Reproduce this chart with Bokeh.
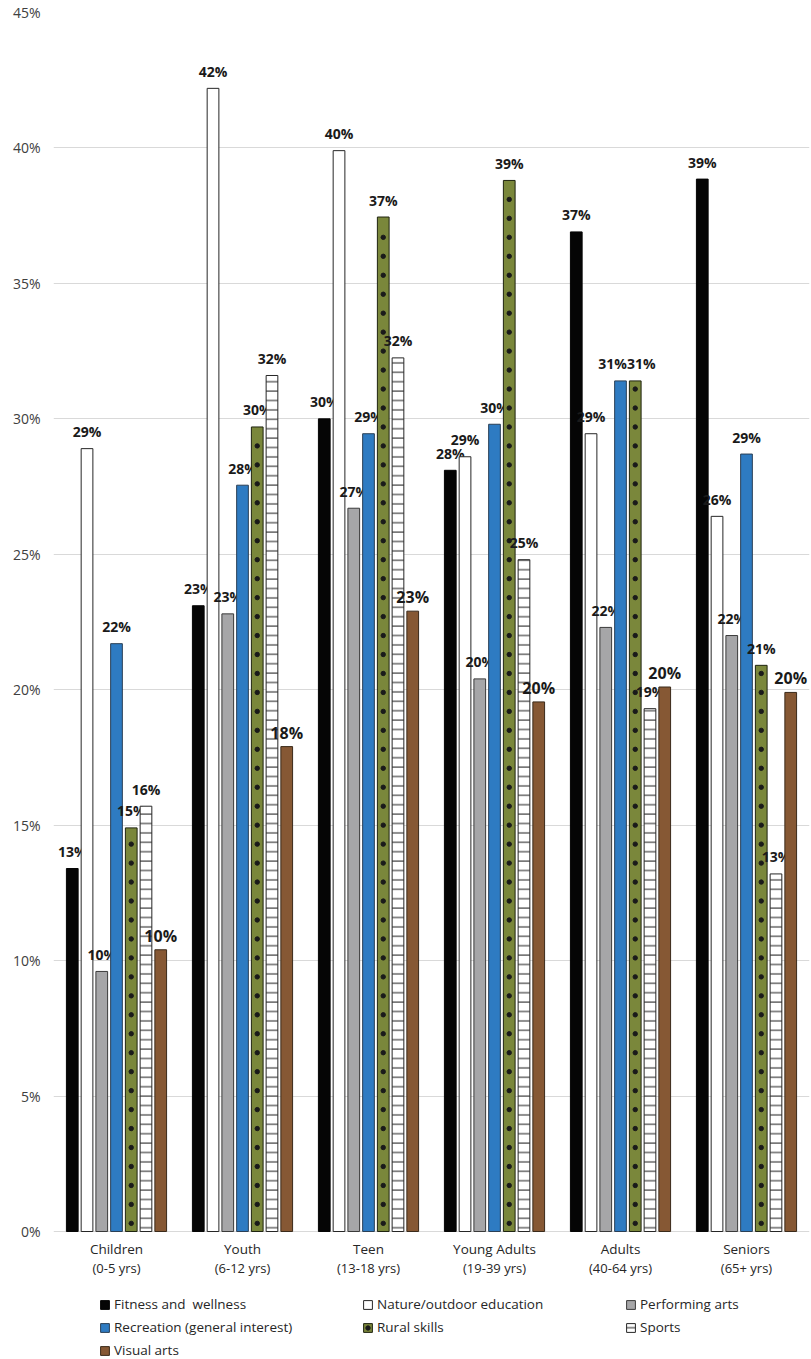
import numpy as np
from bokeh.plotting import figure
from bokeh.models import (FactorRange, FixedTicker, PrintfTickFormatter,
                          Legend, LegendItem, ColumnDataSource, Range1d)
from bokeh.transform import dodge
from bokeh.core.properties import value
from bokeh.embed import file_html
from bokeh.resources import INLINE

# ---------------- data ----------------
groups = ["Children", "Youth", "Teen", "Young Adults", "Adults", "Seniors"]
group_ages = ["(0-5 yrs)", "(6-12 yrs)", "(13-18 yrs)", "(19-39 yrs)", "(40-64 yrs)", "(65+ yrs)"]

fitness = [13.4, 23.1, 30.0, 28.1, 36.9, 38.85]
nature = [28.9, 42.2, 39.9, 28.6, 29.45, 26.4]
performing = [9.6, 22.8, 26.7, 20.4, 22.3, 22.0]
recreation = [21.7, 27.55, 29.45, 29.8, 31.4, 28.7]
rural = [14.9, 29.7, 37.45, 38.8, 31.4, 20.9]
sports = [15.7, 31.6, 32.25, 24.8, 19.3, 13.2]
visual = [10.4, 17.9, 22.9, 19.55, 20.1, 19.9]

series_names = ["Fitness and  wellness", "Nature/outdoor education", "Performing arts",
                "Recreation (general interest)", "Rural skills", "Sports", "Visual arts"]
y_ticks = [0, 5, 10, 15, 20, 25, 30, 35, 40, 45]

FONT = "Open Sans"

# plot area 1219 px tall for 0..45 %, extended downward by 128 px for the
# category labels and the legend
PX_PER_UNIT = 1219 / 45
p = figure(x_range=FactorRange(*groups), y_range=Range1d(-128 / PX_PER_UNIT, 45),
           frame_width=756, frame_height=1219 + 128,
           min_border_left=53, min_border_right=2, min_border_top=12, min_border_bottom=0,
           output_backend="svg", toolbar_location=None)
p.outline_line_color = None
p.background_fill_color = "white"
p.border_fill_color = "white"

styles = [
    dict(fill_color="#050505", line_color="#050505"),
    dict(fill_color="white", line_color="#262626"),
    dict(fill_color="#a6a6a8", line_color="#3a3a3a"),
    dict(fill_color="#2e7bc2", line_color="#2a3f55"),
    dict(fill_color="#7a873b", line_color="#1f2410"),
    dict(fill_color="white", line_color="#262626", hatch_pattern="horizontal_line",
         hatch_scale=9.4, hatch_weight=1, hatch_color="#1a1a1a"),
    dict(fill_color="#865834", line_color="#3a2a1a"),
]
all_vals = [fitness, nature, performing, recreation, rural, sports, visual]

# nudge apart labels of neighbouring bars that sit at the same height
nudges = [[0.0] * len(groups) for _ in all_vals]
for g in range(len(groups)):
    for i in range(len(all_vals) - 1):
        if abs(all_vals[i][g] - all_vals[i + 1][g]) < 0.3:
            nudges[i][g] -= 8
            nudges[i + 1][g] += 6

step = 0.117
bw = 0.093
renderers = []
for i, (vals, st) in enumerate(zip(all_vals, styles)):
    off = (i - 3) * step
    src = ColumnDataSource(dict(x=groups, top=vals, label=[f"{v:.0f}%" for v in vals],
                                nx=nudges[i]))
    r = p.vbar(x=dodge("x", off, range=p.x_range), top="top", width=bw, source=src,
               line_width=1, **st)
    rs = [r]
    if i == 4:
        # dotted texture of the rural-skills bars
        dx, dy = [], []
        for g, v in zip(groups, vals):
            for yy in np.arange(0.3, v - 0.25, 0.70):
                dx.append(g)
                dy.append(float(yy))
        dsrc = ColumnDataSource(dict(x=dx, y=dy))
        d = p.scatter(x=dodge("x", off, range=p.x_range), y="y", source=dsrc,
                      marker="circle", size=4.4, color="#1a1a1a")
        rs.append(d)
    renderers.append(rs)
    big = (i == 6)
    p.text(x=dodge("x", off, range=p.x_range), y="top", text="label", source=src,
           x_offset="nx", text_align="center", text_baseline="alphabetic",
           y_offset=-14 if big else -17,
           text_font=value(FONT), text_font_style="bold",
           text_font_size="16px" if big else "14px", text_color="#1a1a1a")

# ---------------- category labels (two lines) ----------------
cat_src = ColumnDataSource(dict(x=groups, y=[0] * len(groups), name=groups, ages=group_ages))
p.text(x="x", y="y", text="name", source=cat_src, y_offset=17,
       text_align="center", text_baseline="middle",
       text_font=value(FONT), text_font_size="13.5px", text_color="#262626")
p.text(x="x", y="y", text="ages", source=cat_src, y_offset=36,
       text_align="center", text_baseline="middle",
       text_font=value(FONT), text_font_size="13px", text_color="#262626")

# ---------------- axes ----------------
p.yaxis.ticker = FixedTicker(ticks=y_ticks)
p.yaxis.formatter = PrintfTickFormatter(format="%d%%")
p.yaxis.major_label_text_font = FONT
p.yaxis.major_label_text_font_size = "14px"
p.yaxis.major_label_text_color = "#404040"
p.yaxis.major_label_standoff = 13
p.yaxis.axis_line_color = None
p.yaxis.major_tick_line_color = None
p.yaxis.minor_tick_line_color = None
p.yaxis.major_tick_out = 0
p.xaxis.visible = False

p.xgrid.visible = False
p.ygrid.grid_line_color = "#d9d9d9"
p.ygrid.grid_line_width = 1

# ---------------- legend ----------------
items = [LegendItem(label=series_names[k], renderers=renderers[k]) for k in range(7)]
lg = Legend(items=items, location=(46, 0), orientation="horizontal", ncols=3,
            glyph_width=11, glyph_height=11, label_standoff=4,
            label_text_font=FONT, label_text_font_size="13.5px",
            label_text_color="#262626", label_height=18, label_width=243, spacing=5,
            padding=0, margin=0, border_line_alpha=0, background_fill_alpha=0)
p.add_layout(lg, "center")

open("out.html", "w").write(file_html(p, INLINE))
